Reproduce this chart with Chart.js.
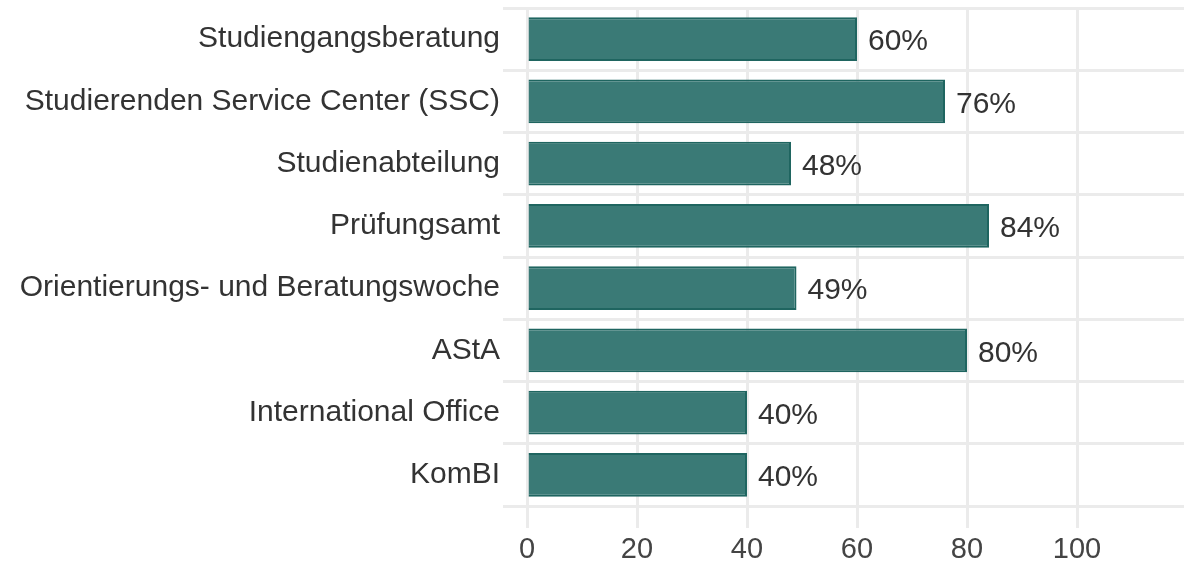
<!DOCTYPE html>
<html>
<head>
<meta charset="utf-8">
<script src="https://cdn.jsdelivr.net/npm/chart.js@4"></script>
<style>
    html, body { margin: 0; padding: 0; background: #fff; overflow: hidden; }
    .wrap { position: relative; width: 1194px; height: 562px; }
</style>
</head>
<body>
<div class="wrap"><canvas id="myChart"></canvas></div>
<script>
    'use strict';
    // data
    const categories = [
        'Studiengangsberatung',
        'Studierenden Service Center (SSC)',
        'Studienabteilung',
        'Prüfungsamt',
        'Orientierungs- und Beratungswoche',
        'AStA',
        'International Office',
        'KomBI',
    ];
    const values = [60, 76, 48, 84, 49, 80, 40, 40];
    const xTicks = [0, 20, 40, 60, 80, 100, 120];

    const fontFamily = '"Liberation Sans", Arial, sans-serif';

    //value labels after bar end
    const valueLabels = {
        id: 'valueLabels',
        afterDatasetsDraw(chart) {
            const ctx = chart.ctx;
            const meta = chart.getDatasetMeta(0);
            ctx.save();
            ctx.font = '30px ' + fontFamily;
            ctx.fillStyle = '#333';
            ctx.textAlign = 'left';
            ctx.textBaseline = 'middle';
            meta.data.forEach((bar, i) => {
                ctx.fillText(values[i] + '%', bar.x + 11, bar.y + 3);
            });
            ctx.restore();
        },
    };

    const config = {
        type: 'bar',
        data: {
            labels: categories,
            datasets: [
                {
                    data: values,
                    backgroundColor: '#3a7a76',
                    borderColor: '#1f6560',
                    borderWidth: 2,
                    categoryPercentage: 1,
                    barPercentage: 0.7,
                },
            ],
        },
        options: {
            indexAxis: 'y',
            responsive: false,
            animation: false,
            devicePixelRatio: 1,
            layout: { padding: { top: 8, right: 7, left: 0, bottom: 0 } },
            scales: {
                x: {
                    min: 0,
                    max: 120,
                    afterBuildTicks: (scale) => {
                        scale.ticks = xTicks.map((v) => ({ value: v }));
                    },
                    afterFit: (scale) => {
                        scale.height = 56;
                    },
                    grid: {
                        color: '#ebebeb',
                        lineWidth: 3,
                        tickLength: 22,
                        tickColor: '#ebebeb',
                    },
                    border: { display: false },
                    ticks: {
                        color: '#444',
                        padding: 5,
                        maxRotation: 0,
                        font: { family: fontFamily, size: 29 },
                        callback: (v) => (v === 120 ? '' : v),
                    },
                },
                y: {
                    afterFit: (scale) => {
                        scale.width = 527;
                        scale.paddingTop = 0;
                        scale.paddingBottom = 0;
                    },
                    grid: {
                        color: '#ebebeb',
                        lineWidth: 3,
                        tickLength: 24,
                        tickColor: '#ebebeb',
                        offset: true,
                    },
                    border: { display: false },
                    ticks: {
                        color: '#333',
                        padding: 3,
                        font: { family: fontFamily, size: 30 },
                    },
                },
            },
            plugins: {
                legend: { display: false },
                tooltip: { enabled: false },
            },
        },
        plugins: [valueLabels],
    };

    const canvas = document.getElementById('myChart');
    canvas.width = 1194;
    canvas.height = 562;
    const myChart = new Chart(canvas, config);
</script>
</body>
</html>
